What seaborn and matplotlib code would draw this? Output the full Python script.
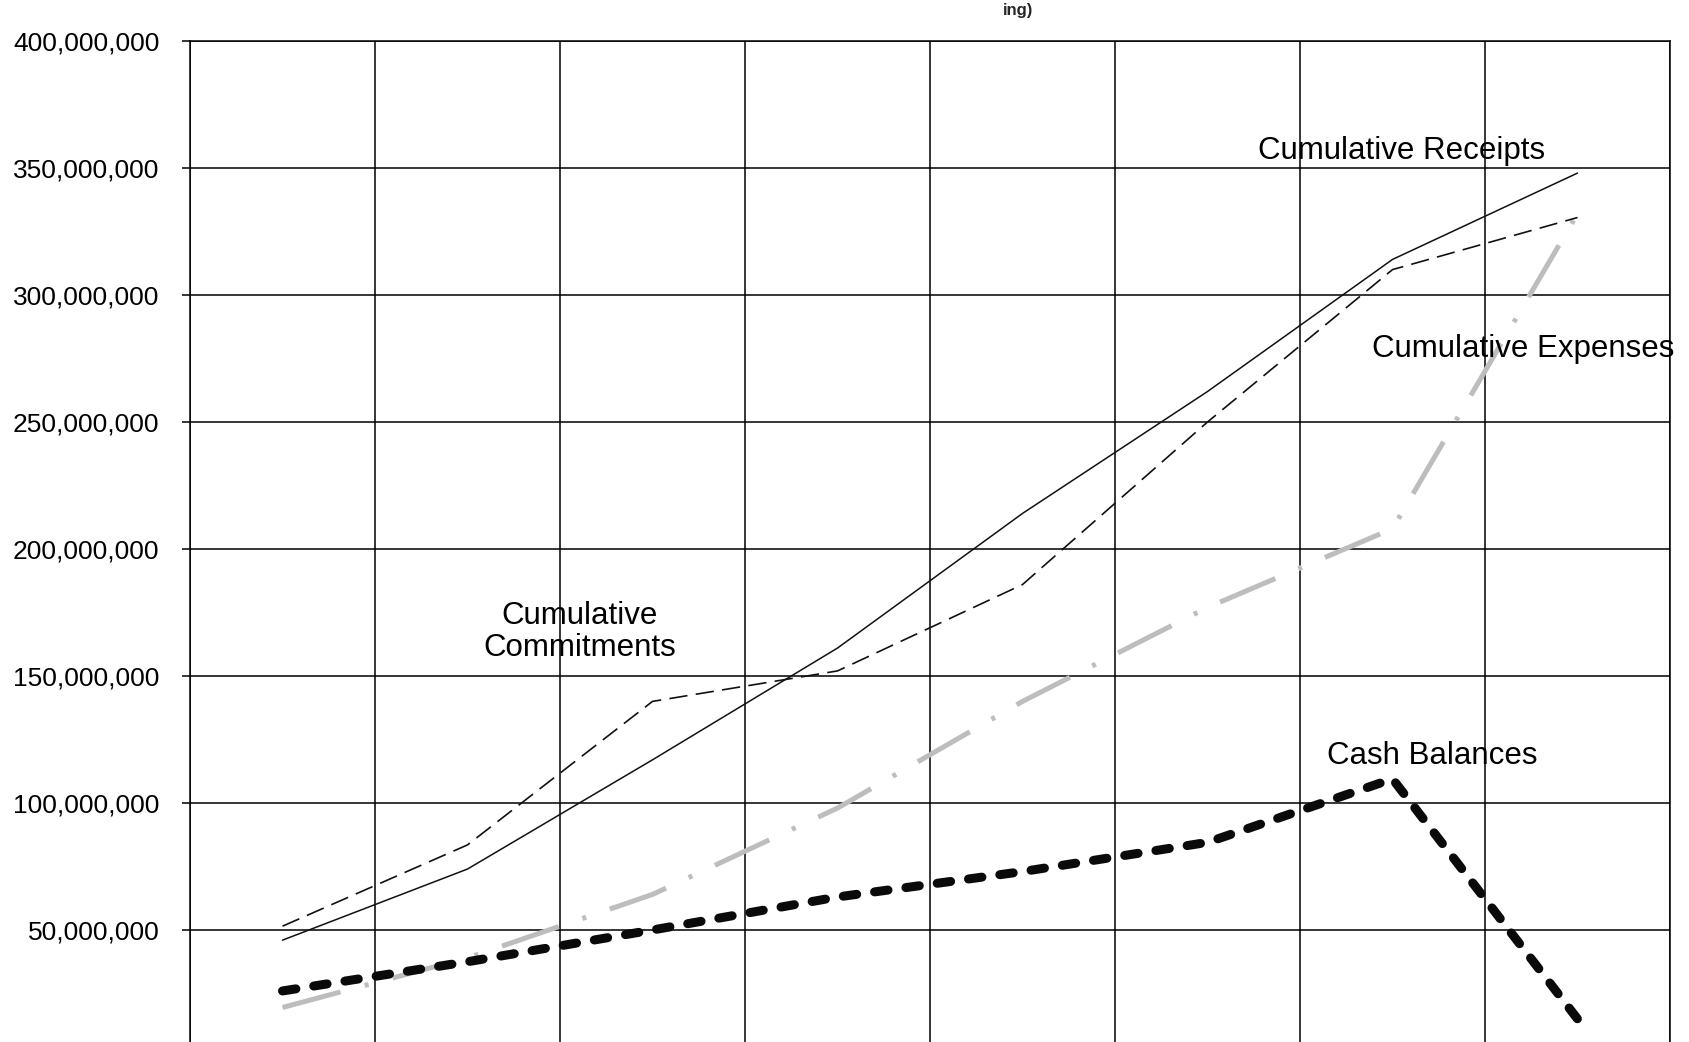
import numpy as np
import pandas as pd
import matplotlib
matplotlib.use("Agg")
import matplotlib.pyplot as plt
from matplotlib.ticker import FuncFormatter
import seaborn as sns

sns.set_style("white")
plt.rcParams["font.family"] = ["Liberation Sans", "DejaVu Sans"]

# valores (em milhoes)
periods = [1, 2, 3, 4, 5, 6, 7, 8]
receipts = [46, 74, 117, 161, 214, 262, 314, 348]
commitments = [51.5, 83.5, 140, 152, 186, 250, 310, 330.5]
expenses = [19.5, 39, 64, 98, 140, 177, 208, 332]
cash = [26, 37.5, 50, 63, 73, 84.5, 109.5, 15]
y_ticks = [0, 50, 100, 150, 200, 250, 300, 350, 400]

W, H = 1690, 1042
fig = plt.figure(figsize=(W / 100, H / 100), dpi=100)
ax = fig.add_axes([190 / W, (H - 1057) / H, 1480 / W, 1016 / H])

ink = "#111111"
sns.lineplot(x=periods, y=receipts, ax=ax, color=ink, lw=1.1, zorder=3)
sns.lineplot(x=periods, y=commitments, ax=ax, color=ink, lw=1.2,
             linestyle=(0, (11, 5)), zorder=3)
sns.lineplot(x=periods, y=expenses, ax=ax, color="#bdbdbd", lw=3.6,
             linestyle=(0, (12, 5, 0.8, 5)), zorder=2)
sns.lineplot(x=periods, y=cash, ax=ax, color="#0a0a0a", lw=6.5,
             linestyle=(0, (1.5, 2.0)), dash_capstyle="round", zorder=4)

ax.set_xlim(0.5, 8.5)
ax.set_ylim(0, 400)
ax.set_xticks(np.arange(0.5, 9, 1))
ax.set_xticklabels([])
ax.set_yticks(y_ticks)
# le zero fica fora da imagem digitalizada
ax.yaxis.set_major_formatter(
    FuncFormatter(lambda v, _: f"{v * 1_000_000:,.0f}" if v > 0 else ""))
ax.set_xlabel("")
ax.set_ylabel("")

ax.grid(True, color="black", lw=1.1)
ax.set_axisbelow(True)
for s in ax.spines.values():
    s.set_color("black")
    s.set_linewidth(1.1)
ax.tick_params(axis="y", direction="out", length=6, width=1.1, pad=16,
               labelsize=19, colors="black", left=True)
ax.tick_params(axis="x", length=0)

txt = dict(fontsize=22.5, color="black", ha="center", va="center", zorder=5)
ax.text(7.05, 356.7, "Cumulative Receipts", **txt)
ax.text(7.705, 278.7, "Cumulative Expenses", **txt)
ax.text(2.608, 167.3, "Cumulative\nCommitments", linespacing=1.05, **txt)
ax.text(7.214, 118.5, "Cash Balances", **txt)

# resto do titulo no topo da digitalizacao
fig.text(1033 / W, (H - 3) / H, "ing)", fontsize=12, fontweight="bold",
         ha="right", va="top")

fig.savefig("out.png", dpi=100)
plt.close()
